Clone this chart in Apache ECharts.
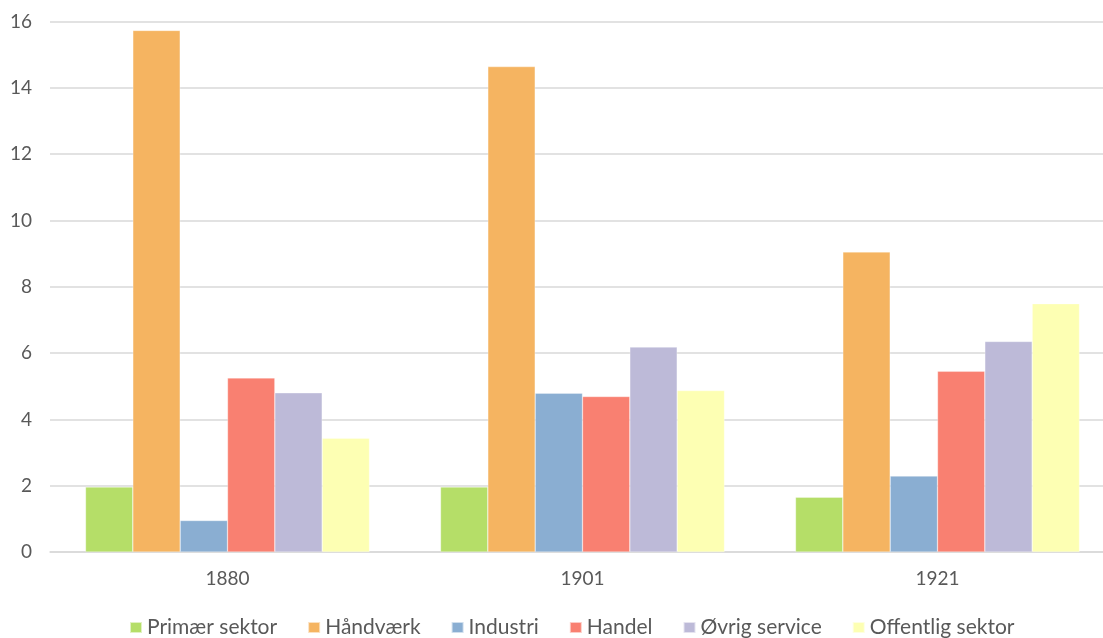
<!DOCTYPE html>
<html>
<head>
<meta charset="utf-8">
<script src="https://cdn.jsdelivr.net/npm/echarts@6/dist/echarts.min.js"></script>
<style>html,body{margin:0;padding:0;background:#fff;}#c{width:1103px;height:638px;}</style>
</head>
<body>
<div id="c"></div>
<script>
const categories = ['1880', '1901', '1921'];
const seriesNames = ['Primær sektor', 'Håndværk', 'Industri', 'Handel', 'Øvrig service', 'Offentlig sektor'];
const primaer = [1.96, 1.96, 1.65];
const haandvaerk = [15.73, 14.64, 9.05];
const industri = [0.95, 4.79, 2.29];
const handel = [5.25, 4.69, 5.45];
const oevrig = [4.80, 6.18, 6.35];
const offentlig = [3.43, 4.87, 7.49];
const colors = ['#b5de68', '#f5b461', '#8aaed2', '#f98071', '#bdbad8', '#fdffb3'];
const values = [primaer, haandvaerk, industri, handel, oevrig, offentlig];

const font = 'Lato, "Open Sans", sans-serif';
const chart = echarts.init(document.getElementById('c'));
chart.setOption({
  animation: false,
  color: colors,
  grid: { left: 50, top: 21.5, right: -12, bottom: 86, containLabel: false, outerBoundsMode: 'none' },
  legend: {
    top: 612,
    left: 124,
    itemWidth: 12,
    itemHeight: 11,
    itemGap: 30,
    icon: 'rect',
    textStyle: { color: '#595959', fontSize: 21, fontFamily: font },
    data: seriesNames
  },
  xAxis: {
    type: 'category',
    data: categories,
    axisLine: { lineStyle: { color: '#d9d9d9', width: 1.5 } },
    axisTick: { show: false },
    axisLabel: { color: '#595959', fontSize: 19, fontFamily: font, margin: 17 }
  },
  yAxis: {
    type: 'value',
    min: 0, max: 16, interval: 2,
    axisLine: { show: false },
    axisTick: { show: false },
    splitLine: { lineStyle: { color: '#d9d9d9', width: 1.5 } },
    axisLabel: { color: '#595959', fontSize: 19, fontFamily: font, margin: 18 }
  },
  series: seriesNames.map((n, i) => ({
    name: n,
    type: 'bar',
    data: values[i],
    barGap: '0%',
    barCategoryGap: '20%',
    itemStyle: { color: colors[i], borderColor: 'rgba(255,255,255,0.6)', borderWidth: 0.5 }
  }))
});
</script>
</body>
</html>
